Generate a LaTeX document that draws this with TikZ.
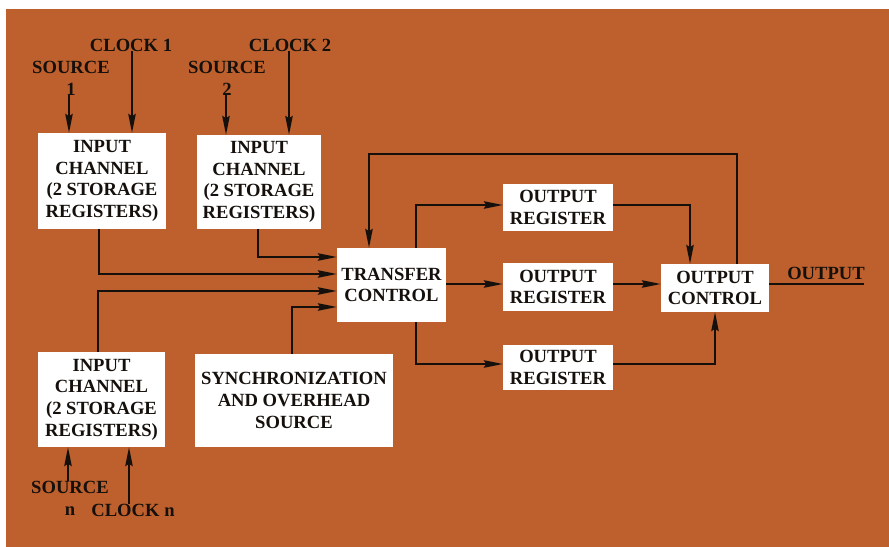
\documentclass[tikz,border=0pt]{standalone}
\usepackage{fontspec}
\setmainfont{Liberation Serif}
\usetikzlibrary{arrows.meta}
\definecolor{bgorange}{RGB}{189,96,45}
\definecolor{ink}{RGB}{22,16,12}
\tikzset{
  x=1bp, y=-1bp,
  txt/.style={font=\fontsize{18.6bp}{21.7bp}\selectfont\bfseries, text=ink, align=center, inner sep=0pt},
  box/.style={txt, fill=white, draw=none},
  wire/.style={draw=ink, line width=1.8bp},
  arr/.style={wire, -{Stealth[length=19bp,width=7.5bp,inset=2.5bp]}}
}
\begin{document}
\begin{tikzpicture}
\useasboundingbox (0,0) rectangle (889,547);
\fill[white] (-5,-5) rectangle (895,555);
\fill[bgorange] (6,9) rectangle (895,555);

% boxes
\node[box, minimum width=128bp, minimum height=96bp] (in1) at (102,181) {INPUT\\CHANNEL\\(2 STORAGE\\REGISTERS)};
\node[box, minimum width=124bp, minimum height=94bp] (in2) at (259,182) {INPUT\\CHANNEL\\(2 STORAGE\\REGISTERS)};
\node[box, minimum width=127bp, minimum height=95bp] (inn) at (101.5,399.5) {INPUT\\CHANNEL\\(2 STORAGE\\REGISTERS)};
\node[box, minimum width=198bp, minimum height=93bp] (sync) at (294,400.5) {SYNCHRONIZATION\\AND OVERHEAD\\SOURCE};
\node[box, minimum width=109bp, minimum height=74bp] (tc) at (391.5,285) {TRANSFER\\CONTROL};
\node[box, minimum width=110bp, minimum height=47bp] (r1) at (558,207.5) {OUTPUT\\REGISTER};
\node[box, minimum width=110bp, minimum height=48bp] (r2) at (558,287) {OUTPUT\\REGISTER};
\node[box, minimum width=110bp, minimum height=45bp] (r3) at (558,367.5) {OUTPUT\\REGISTER};
\node[box, minimum width=108bp, minimum height=48bp] (oc) at (715,288) {OUTPUT\\CONTROL};

% labels
\node[txt] (src1) at (71,78) {SOURCE\\1};
\node[txt] (clk1) at (131,45) {CLOCK 1};
\node[txt] (src2) at (227,78) {SOURCE\\2};
\node[txt] (clk2) at (290,45) {CLOCK 2};
\node[txt] (srcn) at (70,498) {SOURCE\\n};
\node[txt] (clkn) at (133,510) {CLOCK n};
\node[txt] (outl) at (826,273) {OUTPUT};

% input arrows
\draw[arr] (src1.south -| 69,0) -- (in1.north -| 69,0);
\draw[arr] (clk1.south -| 132,0) -- (in1.north -| 132,0);
\draw[arr] (src2.south -| 226,0) -- (in2.north -| 226,0);
\draw[arr] (clk2.south -| 289,0) -- (in2.north -| 289,0);
\draw[arr] (srcn.north -| 68,0) -- (inn.south -| 68,0);
\draw[arr] (clkn.north -| 129,0) -- (inn.south -| 129,0);

% into transfer control
\draw[arr] (in2.south -| 258,0) |- (tc.west |- 0,257);
\draw[arr] (in1.south -| 99,0) |- (tc.west |- 0,274);
\draw[arr] (inn.north -| 98,0) |- (tc.west |- 0,291);
\draw[arr] (sync.north -| 292,0) |- (tc.west |- 0,307);

% transfer control to registers
\draw[arr] (tc.north -| 416,0) |- (r1.west |- 0,205);
\draw[arr] (tc.east |- 0,284) -- (r2.west |- 0,284);
\draw[arr] (tc.south -| 416,0) |- (r3.west |- 0,364);

% registers to output control
\draw[arr] (r1.east |- 0,205) -| (oc.north -| 690,0);
\draw[arr] (r2.east |- 0,284) -- (oc.west |- 0,284);
\draw[arr] (r3.east |- 0,364) -| (oc.south -| 715,0);

% feedback
\draw[arr] (oc.north -| 737,0) -- ++(0,-110) -| (tc.north -| 369,0);

% output
\coordinate (outend) at (864,284);
\draw[wire] (oc.east |- 0,284) -- (outend);
\end{tikzpicture}
\end{document}
